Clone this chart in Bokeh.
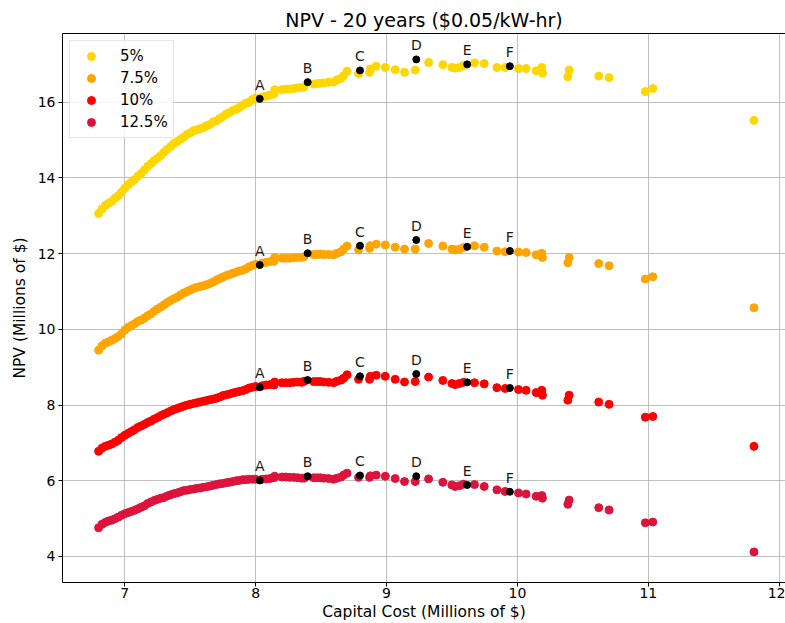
from bokeh.plotting import figure
from bokeh.models import Range1d, FixedTicker, LinearAxis
from bokeh.core.properties import value
from bokeh.embed import file_html
from bokeh.resources import INLINE

# ---- data ----
capital_cost = [
    6.800, 6.825, 6.850, 6.875, 6.900, 6.925, 6.950, 6.975, 7.000, 7.025,
    7.050, 7.075, 7.100, 7.125, 7.150, 7.175, 7.200, 7.225, 7.250, 7.275,
    7.300, 7.325, 7.350, 7.375, 7.400, 7.425, 7.450, 7.475, 7.500, 7.525,
    7.550, 7.575, 7.600, 7.625, 7.650, 7.675, 7.700, 7.725, 7.750, 7.775,
    7.800, 7.825, 7.850, 7.875, 7.900, 7.925, 7.950, 7.975, 8.000,
    8.05, 8.08, 8.11, 8.14, 8.145, 8.20, 8.23, 8.26, 8.29, 8.32, 8.35, 8.37,
    8.443, 8.47, 8.494, 8.52, 8.557, 8.595, 8.621, 8.652, 8.672, 8.698,
    8.786, 8.870, 8.876, 8.921, 8.990, 9.066, 9.137, 9.219, 9.321, 9.430,
    9.499, 9.524, 9.557, 9.588, 9.672, 9.746, 9.843, 9.906, 10.008, 10.066,
    10.143, 10.186, 10.191, 10.385, 10.395, 10.621, 10.700, 10.977, 11.034, 11.807,
]

npv_5 = [
    13.06, 13.18, 13.27, 13.33, 13.38, 13.46, 13.53, 13.62, 13.73, 13.82,
    13.89, 13.96, 14.05, 14.12, 14.21, 14.31, 14.38, 14.46, 14.52, 14.59,
    14.68, 14.76, 14.83, 14.91, 14.96, 15.02, 15.08, 15.15, 15.19, 15.25,
    15.27, 15.30, 15.33, 15.38, 15.41, 15.48, 15.51, 15.57, 15.62, 15.69,
    15.73, 15.78, 15.81, 15.86, 15.92, 15.97, 16.00, 16.07, 16.11,
    16.14, 16.16, 16.19, 16.22, 16.33, 16.33, 16.35, 16.35, 16.36, 16.38, 16.39, 16.40,
    16.48, 16.49, 16.50, 16.51, 16.53, 16.53, 16.59, 16.63, 16.70, 16.82,
    16.75, 16.79, 16.88, 16.95, 16.92, 16.86, 16.79, 16.85, 17.05, 16.99,
    16.92, 16.90, 16.92, 16.97, 17.04, 17.02, 16.92, 16.92, 16.89, 16.89,
    16.83, 16.92, 16.77, 16.67, 16.85, 16.69, 16.65, 16.28, 16.36, 15.52,
]

npv_7_5 = [
    9.45, 9.56, 9.63, 9.67, 9.71, 9.76, 9.81, 9.88, 9.98, 10.05,
    10.10, 10.15, 10.21, 10.25, 10.30, 10.36, 10.41, 10.48, 10.54, 10.59,
    10.65, 10.71, 10.76, 10.81, 10.85, 10.91, 10.96, 11.00, 11.04, 11.08,
    11.11, 11.13, 11.15, 11.18, 11.21, 11.25, 11.30, 11.34, 11.38, 11.42,
    11.45, 11.48, 11.51, 11.54, 11.56, 11.60, 11.65, 11.69, 11.72,
    11.75, 11.77, 11.79, 11.80, 11.90, 11.88, 11.88, 11.88, 11.89, 11.90, 11.90, 11.92,
    11.98, 11.98, 11.99, 11.98, 11.98, 11.97, 12.01, 12.05, 12.12, 12.20,
    12.10, 12.14, 12.21, 12.25, 12.23, 12.17, 12.12, 12.12, 12.27, 12.20,
    12.12, 12.10, 12.12, 12.16, 12.21, 12.17, 12.07, 12.05, 12.04, 12.03,
    11.97, 12.01, 11.90, 11.76, 11.90, 11.74, 11.68, 11.33, 11.39, 10.57,
]

npv_10 = [
    6.78, 6.86, 6.91, 6.94, 6.97, 7.02, 7.07, 7.14, 7.20, 7.25,
    7.30, 7.35, 7.41, 7.45, 7.49, 7.54, 7.58, 7.63, 7.67, 7.72,
    7.76, 7.80, 7.84, 7.88, 7.91, 7.94, 7.97, 8.00, 8.02, 8.04,
    8.06, 8.08, 8.10, 8.12, 8.14, 8.16, 8.18, 8.21, 8.25, 8.27,
    8.29, 8.32, 8.34, 8.36, 8.38, 8.41, 8.45, 8.47, 8.49,
    8.51, 8.53, 8.54, 8.53, 8.61, 8.59, 8.59, 8.59, 8.60, 8.61, 8.60, 8.63,
    8.62, 8.62, 8.62, 8.61, 8.60, 8.59, 8.63, 8.66, 8.71, 8.80,
    8.68, 8.68, 8.76, 8.79, 8.76, 8.68, 8.61, 8.62, 8.74, 8.65,
    8.57, 8.54, 8.57, 8.60, 8.59, 8.56, 8.46, 8.44, 8.41, 8.39,
    8.33, 8.39, 8.26, 8.13, 8.26, 8.08, 8.02, 7.68, 7.70, 6.91,
]

npv_12_5 = [
    4.76, 4.85, 4.90, 4.94, 4.96, 5.00, 5.04, 5.09, 5.13, 5.16,
    5.19, 5.22, 5.26, 5.30, 5.34, 5.40, 5.44, 5.48, 5.51, 5.54,
    5.56, 5.60, 5.63, 5.66, 5.68, 5.71, 5.74, 5.75, 5.77, 5.78,
    5.80, 5.81, 5.83, 5.84, 5.86, 5.88, 5.90, 5.92, 5.93, 5.95,
    5.96, 5.98, 6.00, 6.01, 6.03, 6.03, 6.04, 6.04, 6.04,
    6.04, 6.05, 6.06, 6.08, 6.12, 6.10, 6.10, 6.09, 6.09, 6.08, 6.07, 6.07,
    6.08, 6.08, 6.08, 6.07, 6.06, 6.04, 6.07, 6.10, 6.15, 6.20,
    6.09, 6.09, 6.13, 6.15, 6.12, 6.06, 5.98, 5.98, 6.05, 5.96,
    5.89, 5.85, 5.87, 5.91, 5.90, 5.85, 5.76, 5.72, 5.68, 5.65,
    5.59, 5.61, 5.54, 5.38, 5.49, 5.29, 5.23, 4.89, 4.91, 4.12,
]

series_labels = ["5%", "7.5%", "10%", "12.5%"]
series_colors = ["#FFD700", "#FFA500", "#FF0000", "#DC143C"]

key_x = [8.031, 8.397, 8.797, 9.227, 9.616, 9.942]
key_names = ["A", "B", "C", "D", "E", "F"]
key_5 = [16.09, 16.53, 16.84, 17.13, 17.00, 16.95]
key_7_5 = [11.70, 12.01, 12.21, 12.36, 12.18, 12.07]
key_10 = [8.47, 8.66, 8.76, 8.82, 8.60, 8.45]
key_12_5 = [6.01, 6.12, 6.14, 6.12, 5.89, 5.71]

x_ticks = [7, 8, 9, 10, 11, 12]
y_ticks = [4, 6, 8, 10, 12, 14, 16]

FONT = "DejaVu Sans"

p = figure(
    width=785, height=623,
    x_range=Range1d(6.524, 12.048), y_range=Range1d(3.313, 17.815),
    output_backend="svg", toolbar_location=None,
    min_border_left=62, min_border_right=0, min_border_top=33, min_border_bottom=41,
    title="NPV - 20 years ($0.05/kW-hr)",
)
p.title.align = "center"
p.title.text_font = FONT
p.title.text_font_size = "19px"
p.title.text_font_style = "normal"
p.title.text_color = "black"
p.title.standoff = 5

p.background_fill_color = "white"
p.border_fill_color = "white"
p.outline_line_color = None

xa = p.below[0]
ya = p.left[0]

for ax in (xa, ya):
    ax.major_label_text_font = FONT
    ax.major_label_text_font_size = "14px"
    ax.major_label_text_color = "black"
    ax.axis_label_text_font = FONT
    ax.axis_label_text_font_size = "15.5px"
    ax.axis_label_text_font_style = "normal"
    ax.axis_label_text_color = "black"
    ax.major_tick_in = 0
    ax.major_tick_out = 4
    ax.major_tick_line_color = "black"
    ax.minor_tick_line_color = None
    ax.axis_line_color = "black"

xa.ticker = FixedTicker(ticks=x_ticks)
ya.ticker = FixedTicker(ticks=y_ticks)
xa.axis_label = "Capital Cost (Millions of $)"
ya.axis_label = "NPV (Millions of $)"
xa.major_label_standoff = 1
xa.axis_label_standoff = 2
ya.major_label_standoff = 3
ya.axis_label_standoff = 6

# top spine (the right spine of the reference lies outside the picture)
top_spine = LinearAxis(ticker=FixedTicker(ticks=[]), major_tick_out=0, major_tick_in=0,
                       minor_tick_out=0, minor_tick_in=0,
                       major_label_text_font_size="0px", axis_line_color="black",
                       major_label_standoff=0)
p.add_layout(top_spine, "above")

p.grid.grid_line_color = "#b0b0b0"
p.grid.grid_line_width = 0.8

all_series = [npv_5, npv_7_5, npv_10, npv_12_5]
for ys, lab, col in zip(all_series, series_labels, series_colors):
    p.scatter(capital_cost, ys, size=8, fill_color=col, line_color=col,
              legend_label=lab)

for ky in (key_5, key_7_5, key_10, key_12_5):
    p.scatter(key_x, ky, size=7, fill_color="black", line_color="black")
    p.text(x=key_x, y=ky, text=key_names, text_align="center",
           text_baseline="alphabetic", y_offset=-14,
           text_font=value(FONT), text_font_size=value("14px"),
           text_color="#1a1a1a")

lg = p.legend[0]
lg.location = "top_left"
lg.margin = 7
lg.padding = 5
lg.spacing = 2
lg.glyph_width = 32
lg.glyph_height = 20
lg.label_height = 20
lg.label_standoff = 13
lg.label_text_font = FONT
lg.label_text_font_size = "15px"
lg.label_text_color = "black"
lg.border_line_color = "#cccccc"
lg.border_line_width = 1
lg.background_fill_alpha = 0.8

open("out.html", "w").write(file_html(p, INLINE))
